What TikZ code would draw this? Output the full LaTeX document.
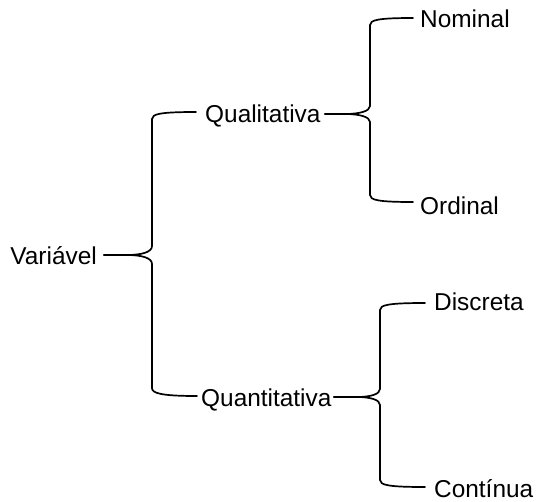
\documentclass[tikz,border=0pt]{standalone}
\usepackage{fontspec}
\setmainfont{Liberation Sans}
\begin{document}
\begin{tikzpicture}[x=1pt,y=-1pt,
  lbl/.style={inner sep=0pt, font=\fontsize{24.4}{29}\selectfont},
  brace/.style={draw=black, line width=1.7pt, line cap=round, line join=round}]
\useasboundingbox (0,0) rectangle (538,501);
% labels
\node[lbl, anchor=base east] (V) at (97,264) {Variável};
\node[lbl, anchor=base west] (Ql) at (205,122) {Qualitativa};
\node[lbl, anchor=base west] (Qn) at (201,406) {Quantitativa};
\node[lbl, anchor=base west] (N) at (420,27) {Nominal};
\node[lbl, anchor=base west] (O) at (420,214) {Ordinal};
\node[lbl, anchor=base west] (D) at (434,310) {Discreta};
\node[lbl, anchor=base west] (C) at (434,497) {Contínua};
% brace 1
\coordinate (v1) at (104,255);
\coordinate (v2) at (196,112);
\coordinate (v3) at (197,396);
\draw[brace] (v1) -- (127,255) .. controls (142,255) and (152,252) .. (152,246)
  -- (152,119) .. controls (152,114) and (160,112) .. (v2);
\draw[brace] (v1) -- (127,255) .. controls (142,255) and (152,258) .. (152,264)
  -- (152,388) .. controls (152,393) and (160,396) .. (v3);
% brace 2
\coordinate (q1) at (325,114);
\coordinate (q2) at (413,18);
\coordinate (q3) at (413,202);
\draw[brace] (q1) -- (345,114) .. controls (360,114) and (370,111) .. (370,106)
  -- (370,25) .. controls (370,20) and (378,18) .. (q2);
\draw[brace] (q1) -- (345,114) .. controls (360,114) and (370,117) .. (370,122)
  -- (370,195) .. controls (370,200) and (378,202) .. (q3);
% brace 3
\coordinate (n1) at (334,397);
\coordinate (n2) at (425,303);
\coordinate (n3) at (425,487);
\draw[brace] (n1) -- (357,397) .. controls (371,397) and (380,394) .. (380,389)
  -- (380,310) .. controls (380,305) and (388,303) .. (n2);
\draw[brace] (n1) -- (357,397) .. controls (371,397) and (380,400) .. (380,405)
  -- (380,480) .. controls (380,485) and (388,487) .. (n3);
\end{tikzpicture}
\end{document}
